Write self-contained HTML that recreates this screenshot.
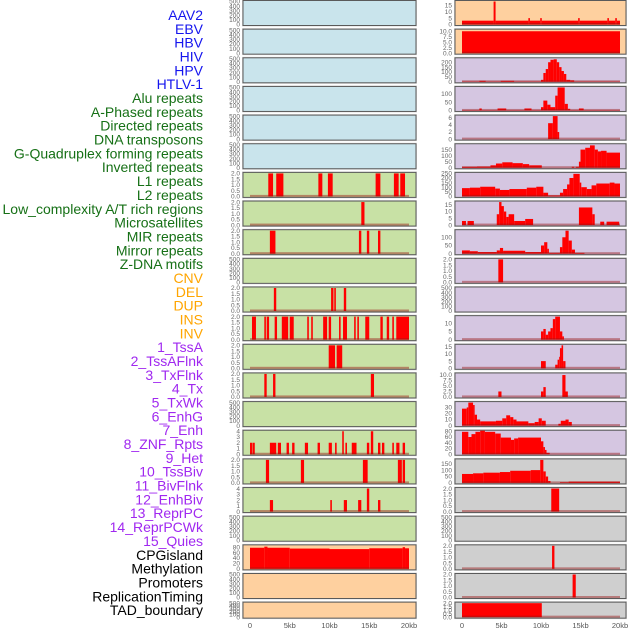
<!DOCTYPE html>
<html><head><meta charset="utf-8"><style>
html,body{margin:0;padding:0;background:#fff;}
svg{display:block;font-family:"Liberation Sans",sans-serif;}
</style></head><body>
<svg id="chart" width="630" height="630" viewBox="0 0 630 630">
<g id="labels"></g>
<g id="panels"></g>
<g id="xaxis"></g>
</svg>
<script>
const trackNames = ["AAV2","EBV","HBV","HIV","HPV","HTLV-1","Alu repeats","A-Phased repeats","Directed repeats","DNA transposons","G-Quadruplex forming repeats","Inverted repeats","L1 repeats","L2 repeats","Low_complexity A/T rich regions","Microsatellites","MIR repeats","Mirror repeats","Z-DNA motifs","CNV","DEL","DUP","INS","INV","1_TssA","2_TssAFlnk","3_TxFlnk","4_Tx","5_TxWk","6_EnhG","7_Enh","8_ZNF_Rpts","9_Het","10_TssBiv","11_BivFlnk","12_EnhBiv","13_ReprPC","14_ReprPCWk","15_Quies","CPGisland","Methylation","Promoters","ReplicationTiming","TAD_boundary"];
const trackGroups = [0,0,0,0,0,0,1,1,1,1,1,1,1,1,1,1,1,1,1,2,2,2,2,2,3,3,3,3,3,3,3,3,3,3,3,3,3,3,3,4,4,4,4,4];
const xTickLabels = ["0","5kb","10kb","15kb","20kb"];
const xTickValues = [0,5,10,15,20];

const leftMax = [500,500,500,500,500,500,2,2,2,500,2,2,2,2,500,4,2,4,500,85,500,500];
const leftTicks = [[0,100,200,300,400,500],[0,100,200,300,400,500],[0,100,200,300,400,500],[0,100,200,300,400,500],[0,100,200,300,400,500],[0,100,200,300,400,500],
 [0,0.5,1,1.5,2],[0,0.5,1,1.5,2],[0,0.5,1,1.5,2],[0,100,200,300,400,500],[0,0.5,1,1.5,2],[0,0.5,1,1.5,2],[0,0.5,1,1.5,2],[0,0.5,1,1.5,2],[0,100,200,300,400,500],
 [0,1,2,3,4],[0,0.5,1,1.5,2],[0,1,2,3,4],[0,100,200,300,400,500],[0,20,40,60,80],[0,100,200,300,400,500],[0,100,200,300,400,500]];
const leftSeries = [[],[],[],[],[],[],
 [[2.3,2.9,2],[3.3,4.2,2],[8.6,9.1,2],[9.8,10.4,2],[15.8,16.4,2],[18.1,18.7,2],[18.9,19.5,2]],
 [[14.0,14.4,2]],
 [[2.5,3.2,2],[13.7,14.0,2],[14.7,15.0,2],[16.1,16.4,2]],
 [],
 [[3.0,3.3,2],[10.2,10.5,2],[10.6,10.8,2],[11.8,12.1,2]],
 [[0.25,0.75,2],[1.8,2.0,2],[2.1,2.4,2],[3.1,3.4,2],[4.0,4.8,2],[5.0,5.5,2],[7.2,7.4,2],[7.7,7.9,2],[9.2,9.7,2],[9.9,10.2,2],[11.2,11.4,2],[11.7,12.2,2],[13.1,13.3,2],[13.5,13.7,2],[14.5,15.0,2],[16.4,16.7,2],[17.2,17.5,2],[17.9,18.1,2],[18.4,20.0,2]],
 [[9.9,10.7,2],[10.9,11.6,2]],
 [[1.8,2.1,2],[2.9,3.2,2],[15.2,15.6,2]],
 [],
 [[0,0.3,2],[0.35,0.6,2],[2.5,3.3,2],[3.5,3.9,2],[4.6,4.9,2],[5.3,5.6,2],[6.9,7.3,2],[8.5,8.8,2],[9.9,10.3,2],[10.7,10.9,2],[11.6,11.8,4],[12.0,12.2,2],[12.8,13.4,2],[14.7,15.0,2],[15.2,15.5,4],[16.1,16.4,2],[16.6,16.9,2],[17.9,18.1,2],[18.4,18.8,2],[19.2,19.5,2]],
 [[2.0,2.4,2],[6.4,6.8,2],[14.2,14.8,2],[18.6,19.1,2],[19.2,19.5,2]],
 [[2.5,2.9,2],[10.1,10.3,2],[11.8,12.2,2],[13.6,14.0,2],[14.7,15.0,4],[16.1,16.4,2]],
 [],
 [[0,1.8,78],[1.8,2.2,82],[2.2,5,78],[5,10,75],[10,15,73],[15,19.2,76],[19.2,19.5,80],[19.5,20,76]],
 [],[]];

const rightMax = [18,10.5,235,140,6.5,190,250,17,140,2,500,14,16,10.5,38,80,180,2,500,2,2,2];
const rightTicks = [[0,5,10,15],[0,2.5,5,7.5,10],[0,50,100,150,200],[0,50,100],[0,2,4,6],[0,50,100,150],[0,50,100,150,200,250],[0,5,10,15],[0,50,100],[0,0.5,1,1.5,2],[0,100,200,300,400,500],[0,5,10],[0,5,10,15],[0,2.5,5,7.5,10],[0,10,20,30],[0,20,40,60,80],[0,50,100,150],[0,0.5,1,1.5,2],[0,100,200,300,400,500],[0,0.5,1,1.5,2],[0,0.5,1,1.5,2],[0,0.5,1,1.5,2]];
const rightSeries = [
 [[0,4.0,3],[4.0,4.25,18],[4.25,8.4,3],[8.4,8.6,5],[8.6,9.9,3],[9.9,10.1,5],[10.1,14.7,3],[14.7,14.9,5],[14.9,18.4,3],[18.4,18.6,5],[18.6,19.4,3],[19.4,19.6,5],[19.6,20,3]],
 [[0,20,10]],
 [[0,2.2,3],[2.2,3.0,10],[3.0,4.9,3],[4.9,6.6,10],[6.6,10.0,3],[10.0,10.3,20],[10.3,10.6,90],[10.6,10.9,130],[10.9,11.2,200],[11.2,11.6,225],[11.6,12.0,230],[12.0,12.3,200],[12.3,12.6,150],[12.6,12.9,110],[12.9,13.2,80],[13.2,13.7,20],[13.7,14.2,15],[14.2,20,3]],
 [[0,2.2,2],[2.2,2.5,12],[2.5,4.5,2],[4.5,5.6,12],[5.6,7.9,2],[7.9,8.8,12],[8.8,10.0,2],[10.0,10.3,20],[10.3,10.8,60],[10.8,11.2,35],[11.2,11.8,20],[11.8,12.1,90],[12.1,13.0,140],[13.0,13.4,40],[13.4,13.7,10],[13.7,14.8,2],[14.8,15.4,12],[15.4,20,2]],
 [[10.9,11.5,4.5],[11.5,12.1,6.5],[12.1,12.3,2]],
 [[0,1.9,8],[1.9,3.6,10],[3.6,4.3,20],[4.3,5.1,35],[5.1,6.4,45],[6.4,7.7,38],[7.7,8.5,30],[8.5,10.1,20],[13.9,14.2,8],[14.4,14.8,8],[14.8,15.0,50],[15.0,15.6,150],[15.6,16.2,165],[16.2,16.8,185],[16.8,17.2,150],[17.2,17.6,135],[17.6,18.3,140],[18.3,20,125]],
 [[0,1,90],[1,2.3,95],[2.3,4.2,105],[4.2,4.8,85],[4.8,6,70],[6,8.2,80],[8.2,9.4,95],[9.4,10.3,105],[10.3,10.9,40],[10.9,12.4,10],[12.4,12.8,40],[12.8,13.3,80],[13.3,13.6,130],[13.6,14.1,200],[14.1,14.9,245],[14.9,15.1,150],[15.1,15.8,100],[15.8,16.4,80],[16.4,17,120],[17,18.7,140],[18.7,19.3,150],[19.3,20,140]],
 [[0,0.5,3],[0.7,1.5,3],[4.4,4.7,8],[4.7,5.0,17],[5.0,5.3,14],[5.3,5.6,10],[5.6,5.9,6],[5.9,6.6,8],[6.6,8.0,3],[8.0,9.0,4.5],[14.8,16.5,13],[16.5,16.8,8],[17.5,18.0,2.5],[18.3,19.9,2.5]],
 [[0,1,20],[1,2,15],[2,4.4,10],[4.4,4.8,20],[4.8,5.2,35],[5.2,8,18],[8,10,10],[10,10.4,50],[10.4,10.8,70],[10.8,11,30],[11,12.4,5],[12.4,12.7,40],[12.7,13.1,100],[13.1,13.5,140],[13.5,13.9,80],[13.9,14.3,25],[14.3,15.5,5]],
 [[4.6,5.2,2]],
 [],
 [[10.0,10.3,5],[10.3,10.6,6.5],[10.6,10.9,3],[10.9,11.2,5],[11.2,11.5,7],[11.5,11.8,12.5],[11.8,12.4,14],[12.4,12.7,5],[12.7,12.9,2]],
 [[10.0,10.6,5],[11.8,12.1,2.5],[12.1,12.3,6],[12.3,12.4,8],[12.4,12.6,14],[12.6,12.8,16],[12.8,13.1,5]],
 [[4.6,5.0,2.5],[10.0,10.3,2.5],[10.3,10.6,4.5],[12.7,13.1,10],[13.1,13.4,2.5]],
 [[0,0.6,28],[0.6,0.8,30],[0.8,1.4,38],[1.4,1.6,34],[1.6,1.9,18],[1.9,2.3,10],[2.3,4.3,7],[4.3,5.1,8],[5.1,5.6,12],[5.6,6.1,17],[6.1,6.5,14],[6.5,6.9,10],[6.9,8.4,7],[8.4,9.2,4],[9.2,9.7,6],[9.7,10.1,12],[10.1,10.6,8],[12.2,12.5,3],[12.5,13.1,8],[13.1,13.5,10],[13.5,13.9,6]],
 [[0,0.8,78],[0.8,1.2,60],[1.2,1.7,70],[1.7,2.3,78],[2.3,2.9,82],[2.9,4.2,78],[4.2,4.9,72],[4.9,6.2,58],[6.2,6.6,50],[6.6,7.1,55],[7.1,10.0,58],[10.0,10.3,45],[10.3,10.5,25],[10.5,10.7,15],[10.7,11.1,5]],
 [[0,1.4,70],[1.4,2.7,75],[2.7,4.8,80],[4.8,6.1,85],[6.1,8.7,95],[8.7,9.9,100],[9.9,10.3,180],[10.3,10.6,90],[10.6,10.9,50],[10.9,11.2,15],[12.4,13.5,5],[13.5,20,10]],
 [[11.3,12.3,2]],
 [],
 [[11.4,11.7,2]],
 [[14.0,14.4,2]],
 [[0,10.1,2]]];

const leftBg = i => i<6 ? "#c9e4ec" : (i>=19 ? "#fed09f" : "#c8e1a5");
const rightBg = i => i<2 ? "#fed09f" : (i>=16 ? "#cfcfcf" : "#d5c6e1");
const groupColors = ["#1515ee","#167016","#ffa500","#a028f0","#000000"];

const NS = "http://www.w3.org/2000/svg";
function mk(tag, attrs, parent){const e=document.createElementNS(NS,tag);for(const k in attrs)e.setAttribute(k,attrs[k]);parent.appendChild(e);return e;}

const lg = document.getElementById("labels");
trackNames.forEach((n,i)=>{
  const t = mk("text",{x:203,y:20+i*13.84,"text-anchor":"end","font-size":"14",fill:groupColors[trackGroups[i]]},lg);
  
  
  t.textContent = n;
});

const pg = document.getElementById("panels");
function rowTop(i){return 0.5+i*28.65;}
function rowH(i){return i===21?16:25;}
function fmtTick(v,ticks){const dec=ticks.some(t=>t%1!==0);return dec?v.toFixed(1):String(v);}

function drawPanel(col, i, bg, max, ticks, series){
  const px0 = col===0?243:455, pw = col===0?173:171;
  const x0 = col===0?250:462, x1 = col===0?409:620;
  const xs = kb => x0 + (x1-x0)*kb/20;
  const top = rowTop(i), h = rowH(i);
  const ys = v => top + h - 1 - (h-2)*v/max;
  const g = mk("g",{},pg);
  
  
  mk("rect",{x:px0-1,y:top-1,width:pw+2,height:h+2,fill:"#dcdcdc"},g);
  mk("rect",{x:px0,y:top,width:pw,height:h,fill:bg,stroke:"#5a5a5a","stroke-width":1},g);
  series.forEach(s=>{
    const r = mk("rect",{x:xs(s[0]),y:ys(s[2]),width:Math.max(0.8,xs(s[1])-xs(s[0])),height:ys(0)-ys(s[2]),fill:"#ff0000"},g);
    
    
  });
  if(max!==500){
    mk("rect",{x:xs(0),y:ys(0)-1.5,width:xs(20)-xs(0),height:2,fill:"rgba(150,20,20,0.45)"},g);
  }
  ticks.forEach(v=>{
    const t = mk("text",{x:px0-3,y:ys(v)+2.2,"text-anchor":"end","font-size":"6.5",fill:"#666"},g);
    
    
    t.textContent = fmtTick(v,ticks);
  });
}
for(let i=0;i<22;i++){
  drawPanel(0,i,leftBg(i),leftMax[i],leftTicks[i],leftSeries[i]);
  drawPanel(1,i,rightBg(i),rightMax[i],rightTicks[i],rightSeries[i]);
}
const xa = document.getElementById("xaxis");
[[250,409],[462,620]].forEach(([a,b])=>{
  xTickValues.forEach((v,k)=>{
    const t = mk("text",{x:a+(b-a)*v/20,y:628,"text-anchor":"middle","font-size":"7.5",fill:"#555"},xa);
    
    
    t.textContent = xTickLabels[k];
  });
});
</script>
</body></html>
